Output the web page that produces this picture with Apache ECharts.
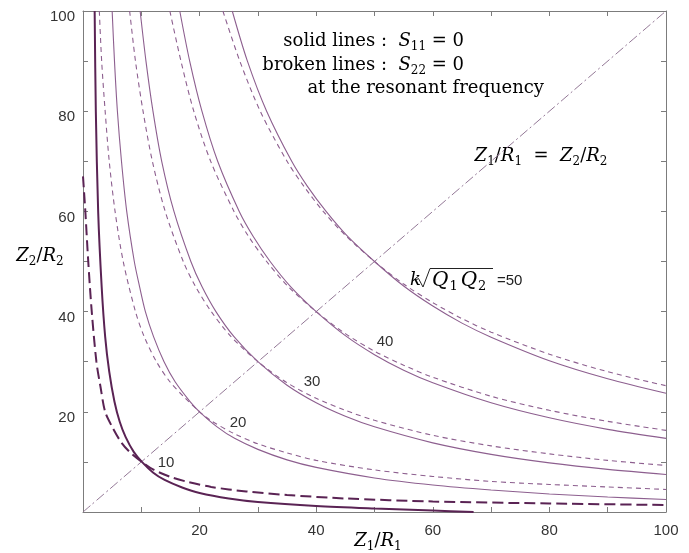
<!DOCTYPE html>
<html>
<head>
<meta charset="utf-8">
<script src="https://cdn.jsdelivr.net/npm/echarts@6/dist/echarts.min.js"></script>
<style>
  html, body { margin: 0; padding: 0; background: #fff; }
  #chart { width: 689px; height: 553px; }
</style>
</head>
<body>
<div id="chart"></div>
<script>
// Axis tick labels (ticks every 10, labels every 20)
const xTickLabels = [20, 40, 60, 80, 100];
const yTickLabels = [20, 40, 60, 80, 100];

// Coupling levels k*sqrt(Q1Q2) for each pair of curves
const kLevels = [10, 20, 30, 40, 50];

// S11 = 0 contours (solid), points as [Z1/R1, Z2/R2]
const s11K10 = [[2.0,100],[2.2,80],[2.6,60],[3.2,45],[3.8,35],[4.5,28],[5.4,22],[6.3,18],[7.3,15],[8.7,12],[10.1,10],[12,7.9],[14,6.4],[17,4.9],[20,3.8],[25,2.7],[30,2.0],[40,1.2],[50,0.7],[60,0.3],[67,0]];
const s11K20 = [[5.0,100],[5.4,90],[5.9,80],[6.6,70],[7.5,60],[8.8,50],[9.7,45],[10.7,40],[12.1,35],[13.9,30],[15.8,26],[18.4,22],[20,20],[23,17],[26,14.7],[30,12.5],[35,10.4],[40,8.9],[50,6.8],[60,5.4],[70,4.4],[80,3.6],[90,3.0],[100,2.5]];
const s11K30 = [[9.8,100],[10.8,90],[12.0,80],[13.5,70],[15.6,60],[18.5,50],[20.4,45],[22.8,40],[25.9,35],[30,30],[35,25.3],[40,21.8],[45,19.1],[50,17.0],[60,13.8],[70,11.5],[80,9.8],[90,8.5],[100,7.5]];
const s11K40 = [[16.6,100],[18.3,90],[20.4,80],[23.1,70],[26.8,60],[29.2,55],[32.1,50],[35.6,45],[40,40],[45,35.2],[50,31.4],[55,28.3],[60,25.8],[70,21.8],[80,18.8],[90,16.5],[100,14.7]];
const s11K50 = [[25.6,100],[28.2,90],[31.5,80],[35.8,70],[38.5,65],[41.7,60],[45.4,55],[50,50],[55,45.1],[60,41.1],[65,37.7],[70,34.9],[80,30.2],[90,26.6],[100,23.7]];

// S22 = 0 contours (broken)
const s22K10 = [[0,67],[0.4,60],[0.9,50],[1.5,40],[2.3,30],[3.0,25],[3.8,20],[5.0,17],[6.5,14],[8.0,12],[10.1,10],[12,8.5],[15,7.0],[18,6.0],[22,5.0],[28,4.1],[35,3.4],[45,2.7],[60,2.1],[80,1.7],[100,1.4]];
const s22K20 = [[2.8,100],[3.2,90],[3.8,80],[4.5,70],[5.5,60],[6.9,50],[9.0,40],[10.5,35],[12.6,30],[14.9,26],[17.3,23],[20,20],[22,18.2],[26,15.6],[30,13.6],[35,11.8],[40,10.3],[50,8.4],[60,7.1],[70,6.1],[80,5.5],[90,5.0],[100,4.5]];
const s22K30 = [[8.0,100],[9.0,90],[10.3,80],[11.9,70],[14.1,60],[17.2,50],[19.3,45],[22.0,40],[25.4,35],[30,30],[35,25.8],[40,22.7],[45,20.3],[50,18.3],[60,15.3],[70,13.2],[80,11.6],[90,10.3],[100,9.3]];
const s22K40 = [[14.9,100],[16.8,90],[19.0,80],[21.9,70],[25.9,60],[28.4,55],[31.5,50],[35.2,45],[40,40],[45,35.6],[50,32.1],[55,29.3],[60,26.9],[70,23.1],[80,20.3],[90,18.1],[100,16.3]];
const s22K50 = [[24.0,100],[26.9,90],[30.4,80],[35.0,70],[37.9,65],[41.2,60],[45.2,55],[50,50],[55,45.5],[60,41.8],[65,38.6],[70,35.9],[80,31.5],[90,28.0],[100,25.2]];

// Line Z1/R1 = Z2/R2
const diagonal = [[0,0],[100,100]];

const thinColor = '#8d5f8f';
const thickColor = '#5a2354';
const diagColor = '#937896';
const axisColor = '#7c7c7c';
const serif = 'DejaVu Serif';
const sans = 'Liberation Sans';
const textColor = '#2a2a2a';

function curve(data, opts) {
  return {
    type: 'line', data: data, showSymbol: false, smooth: 0.3, silent: true,
    lineStyle: Object.assign({ color: thinColor, width: 1.1, type: 'solid' }, opts)
  };
}

const mathRich = {
  r: { fontFamily: serif, fontSize: 18, color: textColor, lineHeight: 24, verticalAlign: 'middle' },
  i: { fontFamily: serif, fontStyle: 'italic', fontSize: 18, color: textColor, lineHeight: 24, verticalAlign: 'middle' },
  s: { fontFamily: serif, fontSize: 12, color: textColor, lineHeight: 12, padding: [12, 0, 0, 0], verticalAlign: 'middle' },
  q: { fontFamily: serif, fontStyle: 'italic', fontSize: 20, color: textColor, lineHeight: 24, verticalAlign: 'middle', padding: [0, 0, 0, 1] },
  qs: { fontFamily: serif, fontSize: 13, color: textColor, lineHeight: 13, padding: [12, 2, 0, 1], verticalAlign: 'middle' }
};

const chart = echarts.init(document.getElementById('chart'), null, { renderer: 'canvas' });

function xAxisDef(pos, labels) {
  return {
    type: 'value', min: 0, max: 100, interval: 10, position: pos,
    axisLine: { show: true, onZero: false, lineStyle: { color: axisColor, width: 1 } },
    axisTick: { show: true, inside: true, length: 5, lineStyle: { color: axisColor } },
    axisLabel: {
      show: labels, margin: 11, color: '#333', fontSize: 15, fontFamily: sans,
      formatter: v => xTickLabels.includes(v) ? String(v) : ''
    },
    splitLine: { show: false }
  };
}
function yAxisDef(pos, labels) {
  return {
    type: 'value', min: 0, max: 100, interval: 10, position: pos,
    axisLine: { show: true, onZero: false, lineStyle: { color: axisColor, width: 1 } },
    axisTick: { show: true, inside: true, length: 5, lineStyle: { color: axisColor } },
    axisLabel: {
      show: labels, margin: 8, color: '#333', fontSize: 15, fontFamily: sans,
      verticalAlign: 'top', lineHeight: 12,
      formatter: v => yTickLabels.includes(v) ? String(v) : ''
    },
    splitLine: { show: false }
  };
}

const option = {
  animation: false,
  backgroundColor: '#fff',
  grid: { left: 83, top: 11, width: 583, height: 501, containLabel: false },
  xAxis: [xAxisDef('bottom', true), xAxisDef('top', false)],
  yAxis: [yAxisDef('left', true), yAxisDef('right', false)],
  series: [
    curve(diagonal, { color: diagColor, width: 1, type: [10, 3, 2, 3] }),
    curve(s11K10, { color: thickColor, width: 2 }),
    curve(s22K10, { color: thickColor, width: 2, type: [11, 5] }),
    curve(s11K20, {}), curve(s22K20, { type: [5, 4] }),
    curve(s11K30, {}), curve(s22K30, { type: [5, 4] }),
    curve(s11K40, {}), curve(s22K40, { type: [5, 4] }),
    curve(s11K50, {}), curve(s22K50, { type: [5, 4] })
  ],
  graphic: [
    // annotation of line styles
    { type: 'text', x: 464, y: 41, style: { text: '{r|solid lines :  }{i|S}{s|11}{r| = 0}', rich: mathRich, align: 'right', verticalAlign: 'middle' } },
    { type: 'text', x: 464, y: 65, style: { text: '{r|broken lines :  }{i|S}{s|22}{r| = 0}', rich: mathRich, align: 'right', verticalAlign: 'middle' } },
    { type: 'text', x: 544, y: 88, style: { text: '{r|at the resonant frequency}', rich: mathRich, align: 'right', verticalAlign: 'middle' } },
    { type: 'text', x: 541, y: 156, style: { text: '{i|Z}{s|1}{r|/}{i|R}{s|1}{r|  =  }{i|Z}{s|2}{r|/}{i|R}{s|2}', rich: mathRich, align: 'center', verticalAlign: 'middle' } },
    // k sqrt(Q1 Q2) = 50
    { type: 'text', x: 410, y: 280, style: { text: '{i|k}', rich: mathRich, align: 'left', verticalAlign: 'middle' } },
    { type: 'polyline', shape: { points: [[416, 280], [418.5, 278.5], [423, 287], [430, 268.5], [493, 268.5]] }, style: { stroke: '#222', lineWidth: 1, fill: null } },
    { type: 'text', x: 431, y: 281, style: { text: '{q|Q}{qs|1}{q|Q}{qs|2}', rich: mathRich, align: 'left', verticalAlign: 'middle' } },
    { type: 'text', x: 497, y: 281, style: { text: '=50', font: '15px ' + sans, fill: '#222', align: 'left', verticalAlign: 'middle' } },
    // remaining curve levels
    { type: 'text', x: 385, y: 342, style: { text: String(kLevels[3]), font: '15px ' + sans, fill: '#333', align: 'center', verticalAlign: 'middle' } },
    { type: 'text', x: 312, y: 382, style: { text: String(kLevels[2]), font: '15px ' + sans, fill: '#333', align: 'center', verticalAlign: 'middle' } },
    { type: 'text', x: 238, y: 423, style: { text: String(kLevels[1]), font: '15px ' + sans, fill: '#333', align: 'center', verticalAlign: 'middle' } },
    { type: 'text', x: 166, y: 463, style: { text: String(kLevels[0]), font: '15px ' + sans, fill: '#333', align: 'center', verticalAlign: 'middle' } },
    // axis titles
    { type: 'text', x: 378, y: 541, style: { text: '{i|Z}{s|1}{r|/}{i|R}{s|1}', rich: mathRich, align: 'center', verticalAlign: 'middle' } },
    { type: 'text', x: 40, y: 256, style: { text: '{i|Z}{s|2}{r|/}{i|R}{s|2}', rich: mathRich, align: 'center', verticalAlign: 'middle' } }
  ]
};

chart.setOption(option);
</script>
</body>
</html>
